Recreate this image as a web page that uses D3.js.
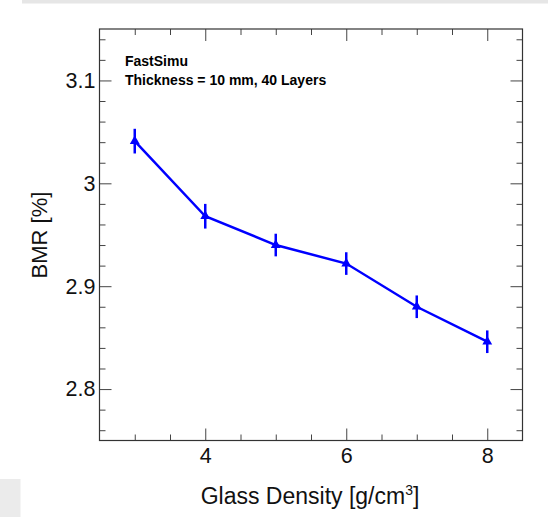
<!DOCTYPE html>
<html>
<head>
<meta charset="utf-8">
<script src="https://cdn.jsdelivr.net/npm/d3@7"></script>
<style>
  html, body { margin: 0; padding: 0; background: #fff; }
  svg { display: block; font-family: "Liberation Sans", Arial, Helvetica, sans-serif; }
</style>
</head>
<body>
<svg id="chart" width="548" height="517"></svg>
<script>
// ---- data ----
const densities = [3, 4, 5, 6, 7, 8];
const bmrValues = [3.041, 2.968, 2.940, 2.922, 2.880, 2.846];
const bmrErrors = [0.012, 0.012, 0.011, 0.011, 0.011, 0.011];
const xMajorTicks = [4, 6, 8];
const xTickLabels = ["4", "6", "8"];
const yMajorTicks = [2.8, 2.9, 3.0, 3.1];
const yTickLabels = ["2.8", "2.9", "3", "3.1"];
const infoLines = ["FastSimu", "Thickness = 10 mm, 40 Layers"];

// ---- layout ----
const L = 99.5, R = 522.5, T = 29, B = 440.5;
const svg = d3.select("#chart");

// background decorations
svg.append("rect").attr("x", 22).attr("y", 0).attr("width", 526).attr("height", 3.5).attr("fill", "#e6e6e6");
svg.append("rect").attr("x", 0).attr("y", 479).attr("width", 20.5).attr("height", 38).attr("fill", "#ebebeb");

const x = d3.scaleLinear().domain([2.5, 8.5]).range([L, R]);
const y = d3.scaleLinear().domain([2.75, 3.15]).range([B, T]);

const xMinor = d3.range(3, 8.01, 0.5).filter(v => !xMajorTicks.some(m => Math.abs(m - v) < 1e-6));
const yMinor = d3.range(2.76, 3.1401, 0.02).map(v => +v.toFixed(2)).filter(v => !yMajorTicks.some(m => Math.abs(m - v) < 1e-6));

const tickCol = "#444";
function styleAxis(g) {
  g.select(".domain").remove();
  g.selectAll(".tick line").attr("stroke", tickCol).attr("stroke-width", 1);
  g.selectAll(".tick text").attr("font-size", 21.5).attr("fill", "#111").attr("font-family", "Liberation Sans, Arial, sans-serif");
}

// bottom axis
svg.append("g").attr("transform", `translate(0,${B})`)
  .call(d3.axisBottom(x).tickValues(xMajorTicks).tickSize(-12).tickPadding(7)
    .tickFormat((d, i) => xTickLabels[i]))
  .call(styleAxis);
svg.append("g").attr("transform", `translate(0,${B})`)
  .call(d3.axisBottom(x).tickValues(xMinor).tickSize(-6).tickFormat(""))
  .call(styleAxis);
// top axis
svg.append("g").attr("transform", `translate(0,${T})`)
  .call(d3.axisTop(x).tickValues(xMajorTicks).tickSize(-12).tickFormat(""))
  .call(styleAxis);
svg.append("g").attr("transform", `translate(0,${T})`)
  .call(d3.axisTop(x).tickValues(xMinor).tickSize(-6).tickFormat(""))
  .call(styleAxis);
// left axis
svg.append("g").attr("transform", `translate(${L},0)`)
  .call(d3.axisLeft(y).tickValues(yMajorTicks).tickSize(-12).tickPadding(4)
    .tickFormat((d, i) => yTickLabels[i]))
  .call(styleAxis);
svg.append("g").attr("transform", `translate(${L},0)`)
  .call(d3.axisLeft(y).tickValues(yMinor).tickSize(-6).tickFormat(""))
  .call(styleAxis);
// right axis
svg.append("g").attr("transform", `translate(${R},0)`)
  .call(d3.axisRight(y).tickValues(yMajorTicks).tickSize(-12).tickFormat(""))
  .call(styleAxis);
svg.append("g").attr("transform", `translate(${R},0)`)
  .call(d3.axisRight(y).tickValues(yMinor).tickSize(-6).tickFormat(""))
  .call(styleAxis);

// frame
svg.append("rect").attr("x", L).attr("y", T).attr("width", R - L).attr("height", B - T)
  .attr("fill", "none").attr("stroke", "#333").attr("stroke-width", 1.2);

// axis titles
const xt = svg.append("text").attr("x", 310).attr("y", 504).attr("text-anchor", "middle")
  .attr("font-size", 23).attr("fill", "#111");
xt.append("tspan").text("Glass Density [g/cm");
xt.append("tspan").attr("dy", -9).attr("font-size", 14).text("3");
xt.append("tspan").attr("dy", 9).text("]");

svg.append("text").attr("transform", `translate(47,235) rotate(-90)`).attr("text-anchor", "middle")
  .attr("font-size", 22).attr("fill", "#111").text("BMR [%]");

// info text
svg.selectAll("text.info").data(infoLines).join("text").attr("class", "info")
  .attr("x", 125).attr("y", (d, i) => 65.5 + i * 19.5)
  .attr("font-size", 14).attr("font-weight", "bold").attr("fill", "#000").text(d => d);

// data
const pts = densities.map((d, i) => ({ x: d, y: bmrValues[i], e: bmrErrors[i] }));
const blue = "#0000ff";
svg.append("path").datum(pts)
  .attr("d", d3.line().x(d => x(d.x)).y(d => y(d.y)))
  .attr("fill", "none").attr("stroke", blue).attr("stroke-width", 2.5);
svg.selectAll("line.err").data(pts).join("line").attr("class", "err")
  .attr("x1", d => x(d.x)).attr("x2", d => x(d.x))
  .attr("y1", d => y(d.y - d.e)).attr("y2", d => y(d.y + d.e))
  .attr("stroke", blue).attr("stroke-width", 2.5);
svg.selectAll("path.mk").data(pts).join("path").attr("class", "mk")
  .attr("transform", d => `translate(${x(d.x)},${y(d.y)})`)
  .attr("d", d3.symbol().type(d3.symbolTriangle).size(42))
  .attr("fill", blue);
</script>
</body>
</html>
